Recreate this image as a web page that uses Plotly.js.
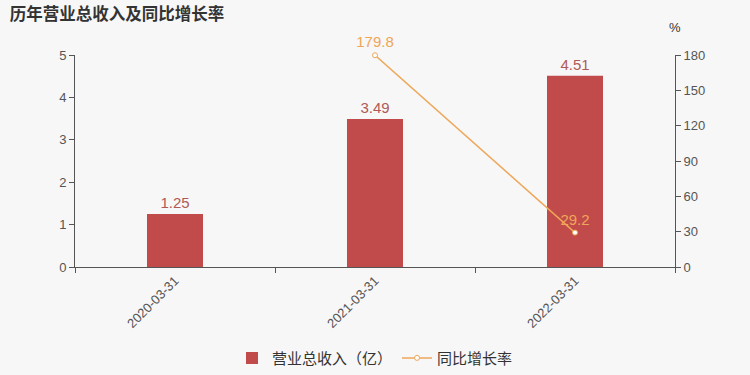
<!DOCTYPE html>
<html>
<head>
<meta charset="utf-8">
<script src="https://cdn.plot.ly/plotly-3.0.1.min.js"></script>
<style>html,body{margin:0;padding:0;background:#f7f7f7;}</style>
</head>
<body>
<div id="chart" style="width:750px;height:375px;"></div>
<script>
const categories = ["2020-03-31", "2021-03-31", "2022-03-31"];
const revenue = [1.25, 3.49, 4.51];
const growth = [null, 179.8, 29.2];
const revenueLabels = ["1.25", "3.49", "4.51"];
const growthLabels = ["", "179.8", "29.2"];

const font = "'Noto Sans CJK SC', 'Noto Sans', sans-serif";
const tickFont = "'Liberation Sans', Arial, sans-serif";

const traces = [
  {
    type: "bar",
    name: "营业总收入（亿）",
    x: categories,
    y: revenue,
    width: 0.28,
    marker: {color: "#c14a4a"},
    text: revenueLabels,
    textposition: "outside",
    cliponaxis: false,
    textfont: {color: "#b05a55", size: 15, family: tickFont},
    hoverinfo: "x+y"
  },
  {
    type: "scatter",
    mode: "lines+markers+text",
    name: "同比增长率",
    x: categories,
    y: growth,
    yaxis: "y2",
    line: {color: "#eea658", width: 1.5},
    marker: {symbol: "circle", size: 5, color: "#ffffff", line: {color: "#eea658", width: 1}},
    text: growthLabels,
    textposition: "top center",
    textfont: {color: "#eea658", size: 15, family: tickFont},
    cliponaxis: false,
    connectgaps: false
  }
];

const layout = {
  width: 750,
  height: 375,
  paper_bgcolor: "#f7f7f7",
  plot_bgcolor: "#f7f7f7",
  margin: {l: 75, r: 75, t: 55, b: 108},
  font: {family: font, color: "#555555", size: 12},
  title: {
    text: "<b>历年营业总收入及同比增长率</b>",
    x: 0.013, xanchor: "left", y: 0.962, yanchor: "middle",
    font: {size: 16.5, color: "#333333", family: font}
  },
  showlegend: true,
  legend: {
    orientation: "h", x: 0.5, xanchor: "center",
    yref: "container", y: 0.045, yanchor: "middle",
    font: {size: 15, color: "#333333", family: font},
    bgcolor: "rgba(0,0,0,0)"
  },
  xaxis: {
    type: "category",
    tickangle: -45,
    tickson: "boundaries",
    ticks: "outside",
    ticklen: 5,
    tickcolor: "#555555",
    showline: true,
    linecolor: "#555555",
    linewidth: 1,
    showgrid: false,
    zeroline: false,
    automargin: false,
    tickfont: {size: 13, color: "#555555", family: tickFont}
  },
  yaxis: {
    range: [0, 5],
    dtick: 1,
    ticks: "outside",
    ticklen: 5,
    tickcolor: "#555555",
    showline: true,
    linecolor: "#555555",
    showgrid: false,
    zeroline: false,
    automargin: false,
    tickfont: {size: 13, color: "#555555", family: tickFont}
  },
  yaxis2: {
    overlaying: "y",
    side: "right",
    range: [0, 180],
    dtick: 30,
    ticks: "outside",
    ticklen: 5,
    tickcolor: "#555555",
    showline: true,
    linecolor: "#555555",
    showgrid: false,
    zeroline: false,
    automargin: false,
    tickfont: {size: 13, color: "#555555", family: tickFont}
  },
  annotations: [
    {text: "%", xref: "paper", yref: "paper", x: 1.0, y: 1.0, yshift: 18, xanchor: "center", yanchor: "bottom",
     showarrow: false, font: {size: 13, color: "#333333", family: tickFont}}
  ]
};

Plotly.newPlot("chart", traces, layout, {displayModeBar: false});
</script>
</body>
</html>
